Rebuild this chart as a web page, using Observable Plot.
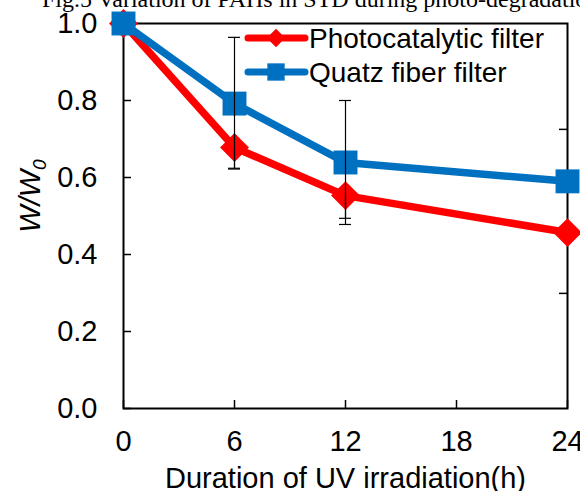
<!DOCTYPE html>
<html>
<head>
<meta charset="utf-8">
<script src="https://cdn.jsdelivr.net/npm/d3@7"></script>
<script src="https://cdn.jsdelivr.net/npm/@observablehq/plot@0.6"></script>
<style>
  html, body { margin: 0; padding: 0; background: white; }
  #wrap { position: relative; width: 580px; height: 491px; overflow: hidden; }
  #title { position: absolute; left: 42px; top: -13px; white-space: nowrap;
           font-family: "Liberation Serif", "Times New Roman", serif; font-size: 24px;
           line-height: 24px; color: black; z-index: 2; }
  #chart { position: absolute; left: 0; top: 0; }
</style>
</head>
<body>
<div id="wrap">
  <div id="chart"></div>
  <div id="title">Fig.5 Variation of PAHs in STD during photo-degradation</div>
</div>
<script>
// ---- data ----
const hours = [0, 6, 12, 24];
const seriesNames = ["Photocatalytic filter", "Quatz fiber filter"];
const seriesColors = ["#FF0000", "#0070C0"];
const photocatalytic = [1.0, 0.678, 0.553, 0.457];
const quartz = [1.0, 0.792, 0.639, 0.590];
const photoErrLow = [null, 0.624, 0.494, null];
const quartzErrLow = [null, 0.622, 0.478, null];
const quartzErrHigh = [null, 0.964, 0.800, null];
const xTicks = [0, 6, 12, 18, 24];
const yTicks = [0.0, 0.2, 0.4, 0.6, 0.8, 1.0];
const rightTicks = [0.725, 0.299];
const xLabel = "Duration of UV irradiation(h)";

// ---- tables ----
const rows = [];
hours.forEach((h, i) => {
  rows.push({series: seriesNames[0], x: h, y: photocatalytic[i]});
  rows.push({series: seriesNames[1], x: h, y: quartz[i]});
});
const errRows = [];
const capRows = [];
hours.forEach((h, i) => {
  if (quartzErrLow[i] != null) {
    errRows.push({x: h, lo: quartzErrLow[i], hi: quartzErrHigh[i]});
    capRows.push({x: h, y: quartzErrLow[i]});
    capRows.push({x: h, y: quartzErrHigh[i]});
  }
  if (photoErrLow[i] != null) {
    errRows.push({x: h, lo: photoErrLow[i], hi: photocatalytic[i]});
    capRows.push({x: h, y: photoErrLow[i]});
  }
});

const W = 580, H = 491;
const mL = 123, mR = 13, mT = 23, mB = 83;
const pxX = 24 / (W - mL - mR);   // hours per pixel
const pxY = 1 / (H - mT - mB);    // units per pixel
const tickLen = 8, capHalf = 6;

const chart = Plot.plot({
  width: W, height: H,
  marginLeft: mL, marginRight: mR, marginTop: mT, marginBottom: mB,
  x: {domain: [0, 24]},
  y: {domain: [0, 1]},
  color: {domain: seriesNames, range: seriesColors},
  style: {fontFamily: "'Liberation Sans', Arial, sans-serif", fontSize: "29px", color: "black", background: "white", overflow: "visible"},
  marks: [
    Plot.axisY(yTicks, {tickSize: 0, tickPadding: 26, tickFormat: d3.format(".1f"), fontSize: 29, label: null}),
    Plot.axisX(xTicks, {tickSize: 0, tickPadding: 22, tickFormat: d => String(d), fontSize: 29, label: null}),
    Plot.ruleY(yTicks, {y: d => d, x1: 0, x2: tickLen * pxX, stroke: "black", strokeWidth: 1.5}),
    Plot.ruleX(xTicks, {x: d => d, y1: 0, y2: tickLen * pxY, stroke: "black", strokeWidth: 1.5}),
    Plot.ruleY(rightTicks, {y: d => d, x1: 24 - tickLen * pxX, x2: 24, stroke: "black", strokeWidth: 1.5}),
    Plot.frame({stroke: "black", strokeWidth: 2}),
    Plot.line(rows, {x: "x", y: "y", z: "series", stroke: "series", strokeWidth: 7.5, strokeLinejoin: "round", strokeLinecap: "round"}),
    Plot.dot(rows.filter(d => d.series === seriesNames[0]), {x: "x", y: "y", symbol: "diamond2", r: 13, fill: seriesColors[0], stroke: "none"}),
    Plot.dot(rows.filter(d => d.series === seriesNames[1]), {x: "x", y: "y", symbol: "square", r: 13.5, fill: seriesColors[1], stroke: "none"}),
    Plot.ruleX(errRows, {x: "x", y1: "lo", y2: "hi", stroke: "black", strokeWidth: 1.2}),
    Plot.ruleY(capRows, {y: "y", x1: d => d.x - capHalf * pxX, x2: d => d.x + capHalf * pxX, stroke: "black", strokeWidth: 1.2}),
    Plot.text([xLabel], {text: d => d, frameAnchor: "bottom", lineAnchor: "middle", dy: 70, fontSize: 29, fill: "black"})
  ]
});
document.getElementById("chart").appendChild(chart);

// ---- y axis label W/W0 and legend ----
const svg = d3.select(chart);
const yl = svg.append("text")
  .attr("transform", "translate(40,196) rotate(-90)")
  .attr("text-anchor", "middle")
  .attr("font-family", "'Liberation Sans', Arial, sans-serif")
  .attr("font-size", 29)
  .attr("fill", "black");
yl.append("tspan").attr("font-style", "italic").text("W/W");
yl.append("tspan").attr("font-style", "italic").attr("font-size", 19).attr("dy", 6).text("0");

const legendY = [38, 72];
const lg = svg.append("g");
seriesNames.forEach((name, i) => {
  const y = legendY[i];
  lg.append("line").attr("x1", 248).attr("x2", 305).attr("y1", y).attr("y2", y)
    .attr("stroke", seriesColors[i]).attr("stroke-width", 7).attr("stroke-linecap", "round");
  lg.append("path")
    .attr("transform", `translate(276,${y})`)
    .attr("d", d3.symbol(i === 0 ? d3.symbolDiamond2 : d3.symbolSquare, i === 0 ? 220 : 300)())
    .attr("fill", seriesColors[i]);
  lg.append("text").attr("x", 309).attr("y", y).attr("dy", "0.35em")
    .attr("text-anchor", "start")
    .attr("font-family", "'Liberation Sans', Arial, sans-serif")
    .attr("font-size", 28).attr("fill", "black").text(name);
});
</script>
</body>
</html>
